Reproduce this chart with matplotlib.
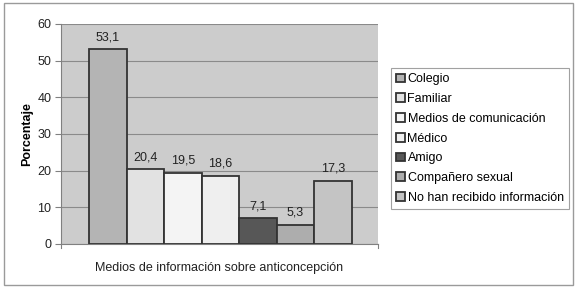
import matplotlib
matplotlib.use('Agg')
import matplotlib.pyplot as plt
from matplotlib.patches import Rectangle
import numpy as np

plt.rcParams['font.family'] = ['Liberation Sans', 'DejaVu Sans']

categories = ['Colegio', 'Familiar', 'Medios de comunicación', 'Médico',
              'Amigo', 'Compañero sexual', 'No han recibido información']
values = [53.1, 20.4, 19.5, 18.6, 7.1, 5.3, 17.3]
value_labels = ['53,1', '20,4', '19,5', '18,6', '7,1', '5,3', '17,3']
bar_colors = ['#b4b4b4', '#e2e2e2', '#f4f4f4', '#efefef', '#575757', '#adadad', '#c4c4c4']
yticks = [0, 10, 20, 30, 40, 50, 60]

W, H = 578, 288
fig = plt.figure(figsize=(W / 100, H / 100), dpi=100)
fig.patch.set_facecolor('white')

# outer frame
fig.patches.append(Rectangle((4 / W, 3 / H), 569 / W, 282 / H, transform=fig.transFigure,
                             fill=False, edgecolor='#9a9a9a', linewidth=1.0))

ax = fig.add_axes([61 / W, 44 / H, 317 / W, 220 / H])
ax.set_facecolor('#cccccc')

x = np.arange(len(values))
for i in range(len(values)):
    ax.bar(x[i], values[i], width=1.0, color=bar_colors[i], edgecolor='#333333',
           linewidth=1.3, label=categories[i], zorder=3)
    ax.text(x[i], values[i] + 1.6, value_labels[i], ha='center', va='bottom', fontsize=9,
            color='#222222', zorder=4)

ax.set_xlim(-1.25, 7.2)
ax.set_ylim(0, 60)
ax.set_yticks(yticks)
ax.yaxis.grid(True, color='#8a8a8a', linewidth=0.8, zorder=1)
ax.set_xticks([])
for s in ['top', 'right']:
    ax.spines[s].set_visible(False)
ax.spines['left'].set_color('#808080')
ax.spines['bottom'].set_color('#808080')
ax.tick_params(axis='y', length=4, color='#808080', labelsize=9, pad=3, labelcolor='#222222')
# category boundary ticks
ax.plot([-1.25, -1.25], [0, -1.2], color='#808080', linewidth=0.8, clip_on=False)
ax.plot([7.2, 7.2], [0, -1.2], color='#808080', linewidth=0.8, clip_on=False)

ax.set_ylabel('Porcentaje', fontsize=9, fontweight='bold', labelpad=3)
ax.set_xlabel('Medios de información sobre anticoncepción', fontsize=9, labelpad=13,
              color='#222222')

leg = fig.legend(loc='upper left', bbox_to_anchor=(391 / W, 220 / H), fontsize=9.0,
                 frameon=True, fancybox=False, edgecolor='#8a8a8a', handlelength=0.7,
                 handleheight=0.7, handletextpad=0.2, labelspacing=0.62, borderpad=0.42,
                 borderaxespad=0)
leg.get_frame().set_linewidth(0.8)

fig.savefig('out.png', dpi=100)
